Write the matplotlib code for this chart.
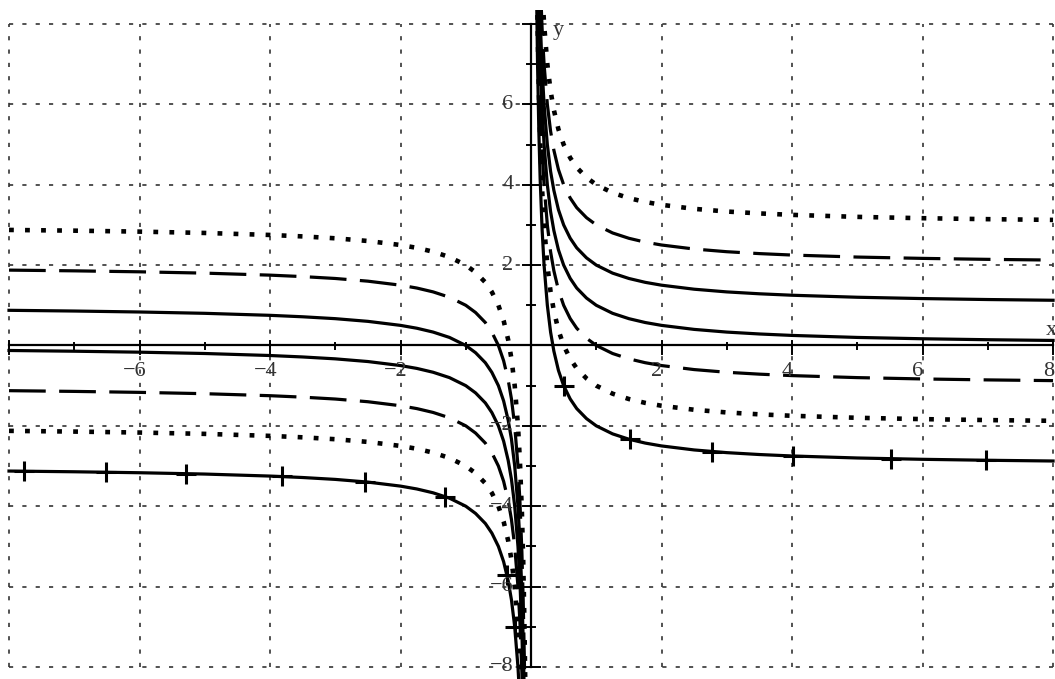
import numpy as np
import matplotlib
matplotlib.use("Agg")
import matplotlib.pyplot as plt
from matplotlib.patches import Rectangle

# ---- data ----
# base curve (the c = 0 member of the family), left and right branches
x_left = [-8, -7, -6, -5, -4, -3.5, -3, -2.5, -2, -1.75, -1.5, -1.25, -1, -0.85,
          -0.7, -0.6, -0.5, -0.42, -0.35, -0.3, -0.25, -0.2, -0.17, -0.14, -0.12,
          -0.1, -0.085, -0.07, -0.06]
base_left = [-0.125, -0.143, -0.167, -0.2, -0.25, -0.286, -0.333, -0.4, -0.5, -0.571,
             -0.667, -0.8, -1.0, -1.18, -1.43, -1.67, -2.0, -2.38, -2.86, -3.33, -4.0,
             -5.0, -5.88, -7.14, -8.33, -10.0, -11.8, -14.3, -16.7]
x_right = [0.06, 0.07, 0.085, 0.1, 0.12, 0.14, 0.17, 0.2, 0.25, 0.3, 0.35, 0.42, 0.5,
           0.6, 0.7, 0.85, 1, 1.25, 1.5, 1.75, 2, 2.5, 3, 3.5, 4, 5, 6, 7, 8]
base_right = [16.7, 14.3, 11.8, 10.0, 8.33, 7.14, 5.88, 5.0, 4.0, 3.33, 2.86, 2.38, 2.0,
              1.67, 1.43, 1.18, 1.0, 0.8, 0.667, 0.571, 0.5, 0.4, 0.333, 0.286, 0.25,
              0.2, 0.167, 0.143, 0.125]
# vertical offsets of the seven curves
offsets = [3, 2, 1, 0, -1, -2, -3]
styles = ["dot", "dash", "solid", "solid", "dash", "dot", "cross"]

# cross symbols on the lowest curve
cross_x = [-7.77, -6.51, -5.28, -3.82, -2.55, -1.32, -0.37, -0.25,
           0.5, 1.51, 2.77, 4.02, 5.52, 6.98]
cross_y = [-3.13, -3.15, -3.19, -3.26, -3.39, -3.76, -5.7, -7.0,
           -1.0, -2.34, -2.64, -2.75, -2.82, -2.86]

xticks_lab = [-6, -4, -2, 2, 4, 6, 8]
yticks_lab = [-8, -6, -4, -2, 2, 4, 6]
grid_vals = [-8, -6, -4, -2, 0, 2, 4, 6, 8]

# ---- figure ----
fig = plt.figure(figsize=(10.55, 6.79), dpi=100)
ax = fig.add_axes([0, 0, 1, 1])
ax.set_xlim(-8.138, 8.03)
ax.set_ylim(-8.30, 8.597)
ax.axis("off")

# grid
for g in grid_vals:
    ax.plot([g, g], [-8, 8], color="#333333", lw=1.2, ls=(0, (2.5, 5.5)),
            dash_capstyle="butt", zorder=1)
    ax.plot([-8, 8], [g, g], color="#333333", lw=1.2, ls=(0, (2.5, 5.5)),
            dash_capstyle="butt", zorder=1)

clip = Rectangle((-9, -9), 18, 17.35, transform=ax.transData)

LW = 2.3
for c, st in zip(offsets, styles):
    for xs, bs in ((x_left, base_left), (x_right, base_right)):
        ys = np.array(bs) + c
        kw = dict(color="black", lw=LW, zorder=3)
        if st == "dot":
            kw.update(lw=3.3, ls=(0, (1.05, 2.45)), dash_capstyle="butt")
        elif st == "dash":
            kw.update(ls=(0, (11.5, 4.2)), dash_capstyle="butt")
        else:
            kw.update(ls="-")
        ln, = ax.plot(xs, ys, **kw)
        ln.set_clip_path(clip)

ax.plot(cross_x, cross_y, ls="none", marker="+", ms=14, mew=2.2,
        color="black", zorder=4)

# axes lines
ax.plot([-8, 8], [0, 0], color="black", lw=1.6, zorder=2)
ax.plot([0, 0], [-8, 8], color="black", lw=1.6, zorder=2)

# ticks
for t in range(-8, 9):
    if t == 0:
        continue
    major = (t % 2 == 0)
    vx = (-0.2, 0.12) if major else (-0.08, 0.05)
    hy = 0.13 if major else 0.06
    ax.plot([t, t], list(vx), color="black", lw=1.4, zorder=2)
    ax.plot([-hy, hy], [t, t], color="black", lw=1.4, zorder=2)

font = dict(family=["Liberation Serif", "DejaVu Serif"], size=16, color="#333333")
for t in xticks_lab:
    lab = str(t).replace("-", "\u2212")
    ax.text(t - 0.07, -0.66, lab, ha="center", va="center", zorder=5, **font)
for t in yticks_lab:
    lab = str(t).replace("-", "\u2212")
    ax.text(-0.27, t, lab, ha="right", va="center", zorder=5, **font)

ax.text(7.97, 0.38, "x", ha="center", va="center", zorder=5, **font)
ax.text(0.42, 7.83, "y", ha="center", va="center", zorder=5, **font)

fig.savefig("out.png", dpi=100)
